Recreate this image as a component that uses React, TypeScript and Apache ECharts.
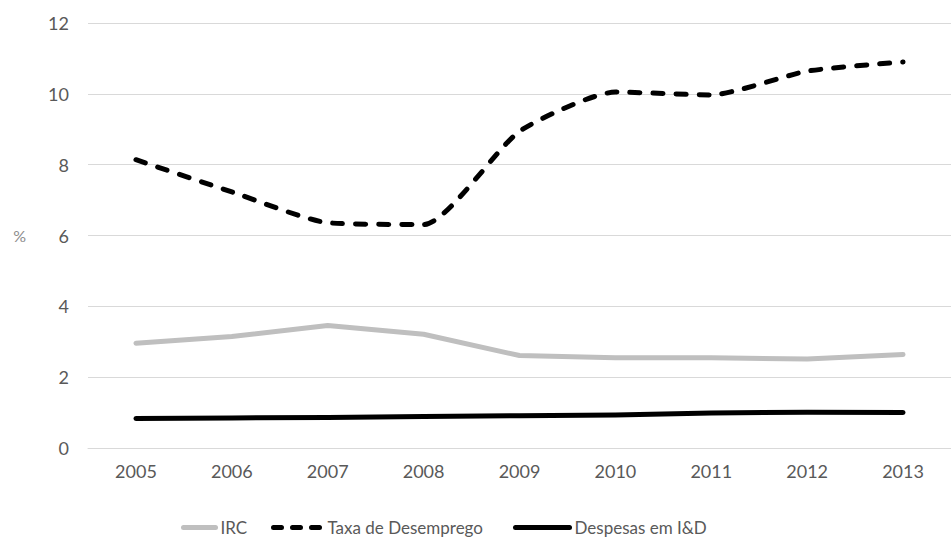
import React, { useEffect, useRef } from "react";
import * as echarts from "echarts";

const years = ["2005", "2006", "2007", "2008", "2009", "2010", "2011", "2012", "2013"];
const irc = [2.96, 3.15, 3.46, 3.21, 2.61, 2.55, 2.55, 2.51, 2.64];
const desemprego = [8.14, 7.23, 6.36, 6.31, 8.94, 10.05, 9.97, 10.64, 10.9];
const despesasID = [0.83, 0.85, 0.86, 0.89, 0.91, 0.93, 0.99, 1.01, 1.0];

const FONT = "Lato, 'Open Sans', sans-serif";
const TEXT = "#595959";

// one legend block per series so each icon can have its own length and dash
function legendBlock(name: string, left: number, width: number, dash?: number[]) {
  return {
    left,
    bottom: 7,
    padding: 0,
    itemWidth: width,
    itemHeight: 12,
    itemStyle: { opacity: 0 },
    lineStyle: { width: 5, cap: "round", ...(dash ? { type: dash } : {}) },
    textStyle: { fontFamily: FONT, fontSize: 17, color: TEXT },
    data: [name],
  };
}

export default function App() {
  const ref = useRef<HTMLDivElement>(null);

  useEffect(() => {
    if (!ref.current) return;
    const chart = echarts.init(ref.current, undefined, { renderer: "svg" });
    chart.setOption({
      animation: false,
      backgroundColor: "#ffffff",
      textStyle: { fontFamily: FONT },
      grid: { left: 88, right: -6, top: 23, bottom: 95 },
      legend: [
        legendBlock("IRC", 181, 32),
        legendBlock("Taxa de Desemprego", 271, 49, [8, 11]),
        legendBlock("Despesas em I&D", 513, 54),
      ],
      xAxis: {
        type: "category",
        data: years,
        boundaryGap: true,
        axisLine: { show: true, lineStyle: { color: "#d9d9d9", width: 1 } },
        axisTick: { show: false },
        axisLabel: { color: TEXT, fontSize: 18, fontFamily: FONT, margin: 14 },
      },
      yAxis: {
        type: "value",
        min: 0,
        max: 12,
        interval: 2,
        name: "%",
        nameLocation: "middle",
        nameRotate: 0,
        nameGap: 62,
        nameTextStyle: { color: "#8c8c8c", fontSize: 16, fontFamily: FONT },
        axisLine: { show: false },
        axisTick: { show: false },
        axisLabel: { color: TEXT, fontSize: 18, fontFamily: FONT, margin: 19 },
        splitLine: { lineStyle: { color: "#d9d9d9", width: 1 } },
      },
      series: [
        {
          name: "IRC",
          type: "line",
          data: irc,
          symbol: "none",
          lineStyle: { color: "#bfbfbf", width: 5, cap: "round", join: "round" },
          itemStyle: { color: "#bfbfbf" },
        },
        {
          name: "Taxa de Desemprego",
          type: "line",
          data: desemprego,
          symbol: "none",
          smooth: 0.2,
          lineStyle: { color: "#000000", width: 5, type: [10, 13], cap: "round", join: "round" },
          itemStyle: { color: "#000000" },
        },
        {
          name: "Despesas em I&D",
          type: "line",
          data: despesasID,
          symbol: "none",
          lineStyle: { color: "#000000", width: 5, cap: "round", join: "round" },
          itemStyle: { color: "#000000" },
        },
      ],
    });
    return () => chart.dispose();
  }, []);

  return (
    <div
      ref={ref}
      style={{ position: "fixed", left: 0, top: 0, width: 951, height: 543, background: "#fff" }}
    />
  );
}
